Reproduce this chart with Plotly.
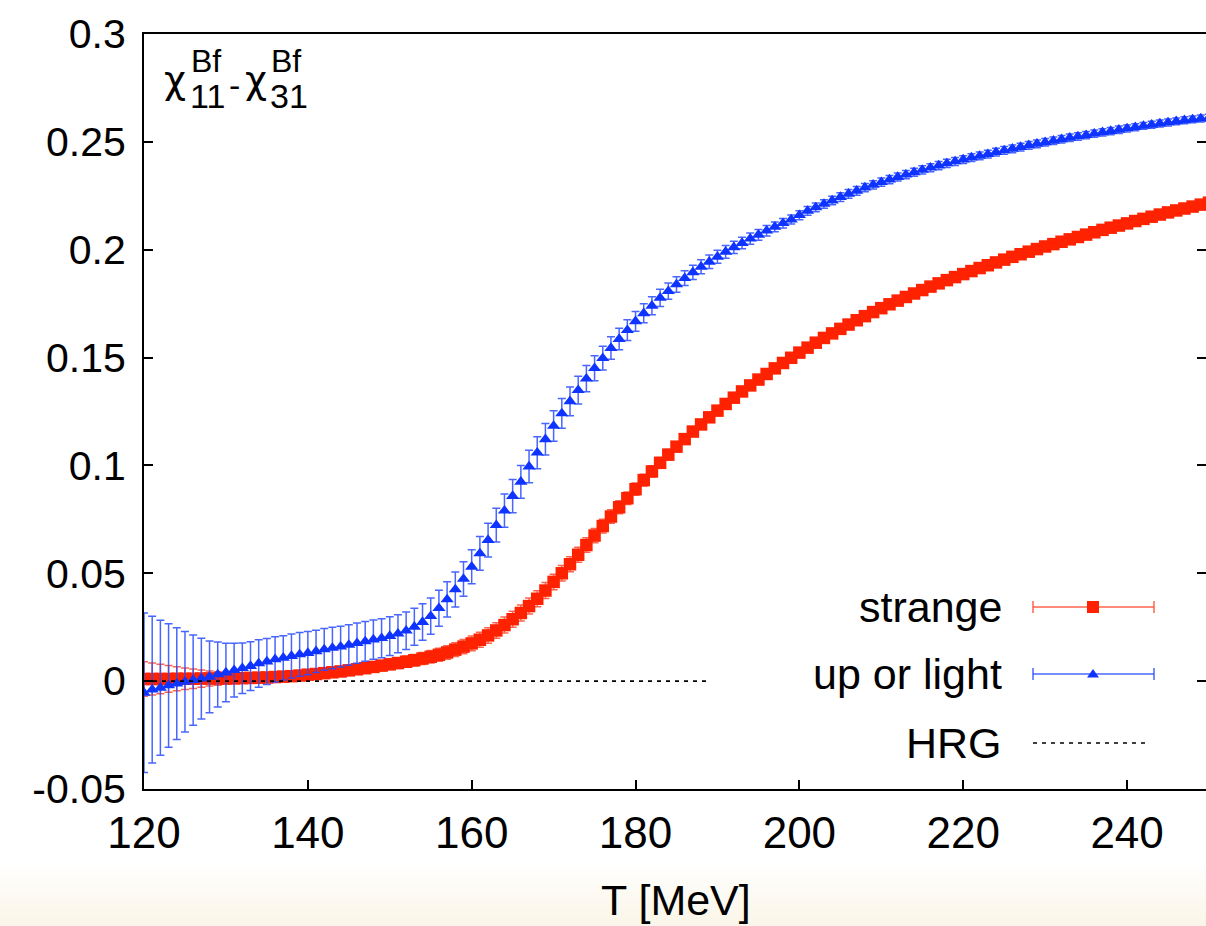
import plotly.graph_objects as go

# ---------------- data ----------------
T = list(range(120, 251))

strange = [
    0.0010, 0.0010, 0.0010, 0.0010, 0.0011, 0.0011, 0.0011, 0.0012, 0.0012, 0.0012,
    0.0013, 0.0013, 0.0014, 0.0015, 0.0016, 0.0017, 0.0019, 0.0021, 0.0023, 0.0026,
    0.0030, 0.0033, 0.0037, 0.0041, 0.0045, 0.0050, 0.0055, 0.0060, 0.0066, 0.0072,
    0.0078, 0.0084, 0.0090, 0.0097, 0.0105, 0.0113, 0.0122, 0.0133, 0.0146, 0.0160,
    0.0175, 0.0192, 0.0212, 0.0235, 0.0260, 0.0287, 0.0316, 0.0348, 0.0382, 0.0420,
    0.0460, 0.0500, 0.0542, 0.0586, 0.0631, 0.0675, 0.0719, 0.0763, 0.0806, 0.0848,
    0.0890, 0.0932, 0.0972, 0.1012, 0.1050, 0.1087, 0.1122, 0.1157, 0.1190, 0.1223,
    0.1254, 0.1285, 0.1314, 0.1343, 0.1371, 0.1398, 0.1424, 0.1450, 0.1475, 0.1499,
    0.1523, 0.1546, 0.1569, 0.1591, 0.1612, 0.1633, 0.1653, 0.1673, 0.1692, 0.1711,
    0.1729, 0.1747, 0.1764, 0.1781, 0.1797, 0.1813, 0.1829, 0.1844, 0.1859, 0.1873,
    0.1887, 0.1901, 0.1915, 0.1928, 0.1941, 0.1954, 0.1967, 0.1979, 0.1991, 0.2003,
    0.2015, 0.2026, 0.2037, 0.2048, 0.2059, 0.2070, 0.2081, 0.2092, 0.2102, 0.2112,
    0.2122, 0.2133, 0.2143, 0.2153, 0.2163, 0.2173, 0.2182, 0.2191, 0.2200, 0.2209,
    0.2218,
]

strange_err = [
    0.0080, 0.0074, 0.0068, 0.0062, 0.0056, 0.0050, 0.0045, 0.0040, 0.0035, 0.0031,
    0.0027, 0.0024, 0.0021, 0.0019, 0.0018, 0.0017, 0.0016, 0.0016, 0.0016, 0.0016,
    0.0017, 0.0017, 0.0018, 0.0018, 0.0019, 0.0019, 0.0020, 0.0021, 0.0022, 0.0023,
    0.0024, 0.0025, 0.0026, 0.0027, 0.0028, 0.0029, 0.0030, 0.0031, 0.0032, 0.0033,
    0.0034, 0.0035, 0.0036, 0.0036, 0.0037, 0.0037, 0.0037, 0.0037, 0.0037, 0.0037,
    0.0036, 0.0036, 0.0035, 0.0035, 0.0034, 0.0033, 0.0032, 0.0031, 0.0030, 0.0029,
    0.0028, 0.0027, 0.0026, 0.0025, 0.0024, 0.0023, 0.0022, 0.0021, 0.0020, 0.0020,
    0.0019, 0.0019, 0.0019, 0.0019, 0.0019, 0.0019, 0.0019, 0.0019, 0.0019, 0.0019,
    0.0018, 0.0018, 0.0018, 0.0018, 0.0018, 0.0018, 0.0018, 0.0018, 0.0018, 0.0018,
    0.0018, 0.0018, 0.0018, 0.0018, 0.0018, 0.0018, 0.0018, 0.0018, 0.0018, 0.0018,
    0.0017, 0.0017, 0.0017, 0.0017, 0.0017, 0.0017, 0.0017, 0.0017, 0.0017, 0.0017,
    0.0016, 0.0016, 0.0016, 0.0016, 0.0016, 0.0016, 0.0016, 0.0016, 0.0016, 0.0016,
    0.0015, 0.0015, 0.0015, 0.0015, 0.0015, 0.0015, 0.0015, 0.0015, 0.0015, 0.0015,
    0.0015,
]

light = [
    -0.0054, -0.0039, -0.0031, -0.0020, -0.0012, -0.0003, 0.0005, 0.0012, 0.0020, 0.0031,
    0.0040, 0.0051, 0.0060, 0.0070, 0.0082, 0.0091, 0.0101, 0.0108, 0.0116, 0.0124,
    0.0130, 0.0138, 0.0147, 0.0154, 0.0160, 0.0168, 0.0176, 0.0184, 0.0193, 0.0199,
    0.0209, 0.0220, 0.0234, 0.0252, 0.0274, 0.0301, 0.0338, 0.0379, 0.0425, 0.0474,
    0.0530, 0.0592, 0.0654, 0.0723, 0.0790, 0.0858, 0.0924, 0.0995, 0.1059, 0.1121,
    0.1183, 0.1241, 0.1297, 0.1349, 0.1402, 0.1451, 0.1497, 0.1544, 0.1586, 0.1627,
    0.1668, 0.1705, 0.1740, 0.1777, 0.1808, 0.1839, 0.1868, 0.1895, 0.1921, 0.1944,
    0.1967, 0.1990, 0.2011, 0.2031, 0.2051, 0.2069, 0.2088, 0.2106, 0.2123, 0.2140,
    0.2160, 0.2180, 0.2196, 0.2212, 0.2228, 0.2244, 0.2259, 0.2273, 0.2288, 0.2301,
    0.2313, 0.2325, 0.2337, 0.2348, 0.2359, 0.2370, 0.2380, 0.2390, 0.2400, 0.2409,
    0.2418, 0.2427, 0.2435, 0.2443, 0.2452, 0.2460, 0.2468, 0.2476, 0.2484, 0.2491,
    0.2498, 0.2505, 0.2512, 0.2519, 0.2525, 0.2531, 0.2538, 0.2544, 0.2550, 0.2556,
    0.2562, 0.2568, 0.2574, 0.2579, 0.2585, 0.2590, 0.2595, 0.2600, 0.2604, 0.2608,
    0.2612,
]

light_err = [
    0.0370, 0.0340, 0.0313, 0.0286, 0.0259, 0.0233, 0.0209, 0.0187, 0.0166, 0.0151,
    0.0136, 0.0125, 0.0117, 0.0113, 0.0110, 0.0107, 0.0105, 0.0103, 0.0102, 0.0101,
    0.0100, 0.0098, 0.0097, 0.0096, 0.0095, 0.0094, 0.0093, 0.0092, 0.0091, 0.0090,
    0.0090, 0.0088, 0.0087, 0.0086, 0.0085, 0.0084, 0.0083, 0.0082, 0.0081, 0.0080,
    0.0079, 0.0078, 0.0078, 0.0078, 0.0077, 0.0077, 0.0076, 0.0075, 0.0074, 0.0073,
    0.0071, 0.0069, 0.0067, 0.0064, 0.0061, 0.0058, 0.0055, 0.0052, 0.0050, 0.0048,
    0.0046, 0.0044, 0.0042, 0.0040, 0.0038, 0.0036, 0.0034, 0.0033, 0.0032, 0.0031,
    0.0030, 0.0029, 0.0028, 0.0027, 0.0026, 0.0025, 0.0024, 0.0023, 0.0022, 0.0021,
    0.0021, 0.0020, 0.0020, 0.0020, 0.0020, 0.0020, 0.0020, 0.0020, 0.0019, 0.0019,
    0.0019, 0.0019, 0.0019, 0.0019, 0.0019, 0.0019, 0.0019, 0.0019, 0.0019, 0.0019,
    0.0018, 0.0018, 0.0018, 0.0018, 0.0018, 0.0018, 0.0018, 0.0018, 0.0018, 0.0018,
    0.0017, 0.0017, 0.0017, 0.0017, 0.0017, 0.0017, 0.0017, 0.0017, 0.0017, 0.0017,
    0.0016, 0.0016, 0.0016, 0.0016, 0.0016, 0.0016, 0.0016, 0.0016, 0.0016, 0.0016,
    0.0016,
]

HRG_T = [120, 189]
HRG = [0.0, 0.0]

x_ticks = [120, 140, 160, 180, 200, 220, 240]
y_ticks = [-0.05, 0, 0.05, 0.1, 0.15, 0.2, 0.25, 0.3]
y_tick_text = ["-0.05", "0", "0.05", "0.1", "0.15", "0.2", "0.25", "0.3"]

series_names = ["strange", "up or light", "HRG"]

# ---------------- styling ----------------
FONT = "Liberation Sans, Arial, Helvetica, sans-serif"
GREEK = "DejaVu Sans, Noto Sans, sans-serif"
RED = "#ff2200"
RED_ERR = "rgba(255,70,45,0.85)"
BLUE = "#0f34ff"
BLUE_ERR = "rgba(40,75,255,0.85)"

FIG_W, FIG_H = 1206, 926
L, R, TOP, BOT = 144, 0, 34, 137
PW = FIG_W - L - R
PH = FIG_H - TOP - BOT
AXIS_BOTTOM = FIG_H - BOT


def px(xp, yp):
    """pixel -> paper coordinates"""
    return (xp - L) / PW, (AXIS_BOTTOM - yp) / PH


fig = go.Figure()

fig.add_trace(go.Scatter(
    x=T, y=strange, mode="markers", name=series_names[0],
    marker=dict(symbol="square", size=12.5, color=RED, line=dict(width=0)),
    error_y=dict(type="data", array=strange_err, visible=True,
                 color=RED_ERR, thickness=1.5, width=4),
    showlegend=False,
))

fig.add_trace(go.Scatter(
    x=T, y=light, mode="markers", name=series_names[1],
    marker=dict(symbol="triangle-up", size=11.5, color=BLUE, line=dict(width=0)),
    error_y=dict(type="data", array=light_err, visible=True,
                 color=BLUE_ERR, thickness=1.5, width=4),
    showlegend=False,
))

fig.add_trace(go.Scatter(
    x=HRG_T, y=HRG, mode="lines", name=series_names[2],
    line=dict(color="black", width=1.6, dash="4px,5px"),
    showlegend=False,
))

# dummy trace so the right-hand mirrored tick axis is drawn
fig.add_trace(go.Scatter(x=[], y=[], yaxis="y2", showlegend=False, hoverinfo="skip"))

shapes = []
annotations = []

# background gradient at the bottom (slide background)
g_top, g_bot = 862, 926
n = 16
for i in range(n):
    y0 = g_top + (g_bot - g_top) * i / n
    y1 = g_top + (g_bot - g_top) * (i + 1) / n
    f = (i + 0.5) / n
    r = round(255 - 5 * f)
    g = round(255 - 10 * f)
    b = round(255 - 24 * f)
    x0p, y0p = px(0, y0)
    x1p, y1p = px(FIG_W, y1 + 0.6)
    shapes.append(dict(type="rect", xref="paper", yref="paper",
                       x0=x0p, x1=x1p, y0=y0p, y1=y1p,
                       fillcolor=f"rgb({r},{g},{b})", line=dict(width=0),
                       layer="below"))

# ---------------- legend (drawn by hand: text left, sample right) ----------------
leg_rows = [607, 674, 743]
lx0, lx1, lxm = 1033, 1154, 1093
text_right = 1004
for name, yrow in zip(series_names, leg_rows):
    xp, yp = px(text_right, yrow)
    annotations.append(dict(text=name, x=xp, y=yp, xref="paper", yref="paper",
                            xanchor="right", yanchor="middle", showarrow=False,
                            font=dict(size=43, family=FONT, color="black")))


def seg(x0, y0, x1, y1, color, width, dash="solid"):
    a, b = px(x0, y0)
    c, d = px(x1, y1)
    return dict(type="line", xref="paper", yref="paper", x0=a, y0=b, x1=c, y1=d,
                line=dict(color=color, width=width, dash=dash))


for yrow, ecol in [(leg_rows[0], RED_ERR), (leg_rows[1], BLUE_ERR)]:
    shapes.append(seg(lx0, yrow, lx1, yrow, ecol, 1.5))
    shapes.append(seg(lx0, yrow - 6, lx0, yrow + 6, ecol, 1.5))
    shapes.append(seg(lx1, yrow - 6, lx1, yrow + 6, ecol, 1.5))

a, b = px(lxm - 6, leg_rows[0] + 6)
c, d = px(lxm + 6, leg_rows[0] - 6)
shapes.append(dict(type="rect", xref="paper", yref="paper", x0=a, y0=b, x1=c, y1=d,
                   fillcolor=RED, line=dict(width=0)))

p1 = px(lxm, leg_rows[1] - 5)
p2 = px(lxm - 6, leg_rows[1] + 3.5)
p3 = px(lxm + 6, leg_rows[1] + 3.5)
shapes.append(dict(type="path", xref="paper", yref="paper",
                   path=f"M {p1[0]},{p1[1]} L {p2[0]},{p2[1]} L {p3[0]},{p3[1]} Z",
                   fillcolor=BLUE, line=dict(width=0)))

shapes.append(seg(lx0, leg_rows[2], 1150, leg_rows[2], "black", 1.6, "4px,5px"))


# ---------------- chi label ----------------
def txt(text, x_px, y_px, size, family=FONT):
    xp, yp = px(x_px, y_px)
    return dict(text=text, x=xp, y=yp, xref="paper", yref="paper",
                xanchor="left", yanchor="middle", showarrow=False,
                font=dict(size=size, family=family, color="black"))


annotations += [
    txt("χ", 162, 80, 38, GREEK),
    txt("Bf", 189, 61, 32),
    txt("11", 188, 96, 34),
    txt("-", 227, 85, 34),
    txt("χ", 243, 80, 38, GREEK),
    txt("Bf", 269, 61, 32),
    txt("31", 268, 96, 34),
]

# x axis title
xp, yp = px(676, 900)
annotations.append(dict(text="T [MeV]", x=xp, y=yp, xref="paper", yref="paper",
                        xanchor="center", yanchor="middle", showarrow=False,
                        font=dict(size=43, family=FONT, color="black")))

x_range = [120, 120 + 130 * (PW / 1065.0)]
y_range = [-0.05, 0.3]

fig.update_layout(
    width=FIG_W, height=FIG_H,
    margin=dict(l=L, r=R, t=TOP, b=BOT, pad=0),
    paper_bgcolor="white", plot_bgcolor="white",
    showlegend=False,
    shapes=shapes,
    annotations=annotations,
    xaxis=dict(
        range=x_range, tickvals=x_ticks, ticktext=[str(v) for v in x_ticks],
        ticks="inside", ticklen=9, tickwidth=2, tickcolor="black",
        showline=True, linecolor="black", linewidth=2, mirror=True,
        showgrid=False, zeroline=False,
        tickfont=dict(size=44, family=FONT, color="black"),
        ticklabelstandoff=4,
    ),
    yaxis=dict(
        range=y_range, tickvals=y_ticks, ticktext=y_tick_text,
        ticks="inside", ticklen=9, tickwidth=2, tickcolor="black",
        showline=True, linecolor="black", linewidth=2, mirror=False,
        showgrid=False, zeroline=False,
        tickfont=dict(size=41, family=FONT, color="black"),
        ticklabelstandoff=8,
    ),
    yaxis2=dict(
        range=y_range, overlaying="y", side="right", anchor="x",
        tickvals=y_ticks, ticks="inside", ticklen=9, tickwidth=2, tickcolor="black",
        showticklabels=False, showline=False, showgrid=False, zeroline=False,
    ),
)

fig.write_html("out.html")
